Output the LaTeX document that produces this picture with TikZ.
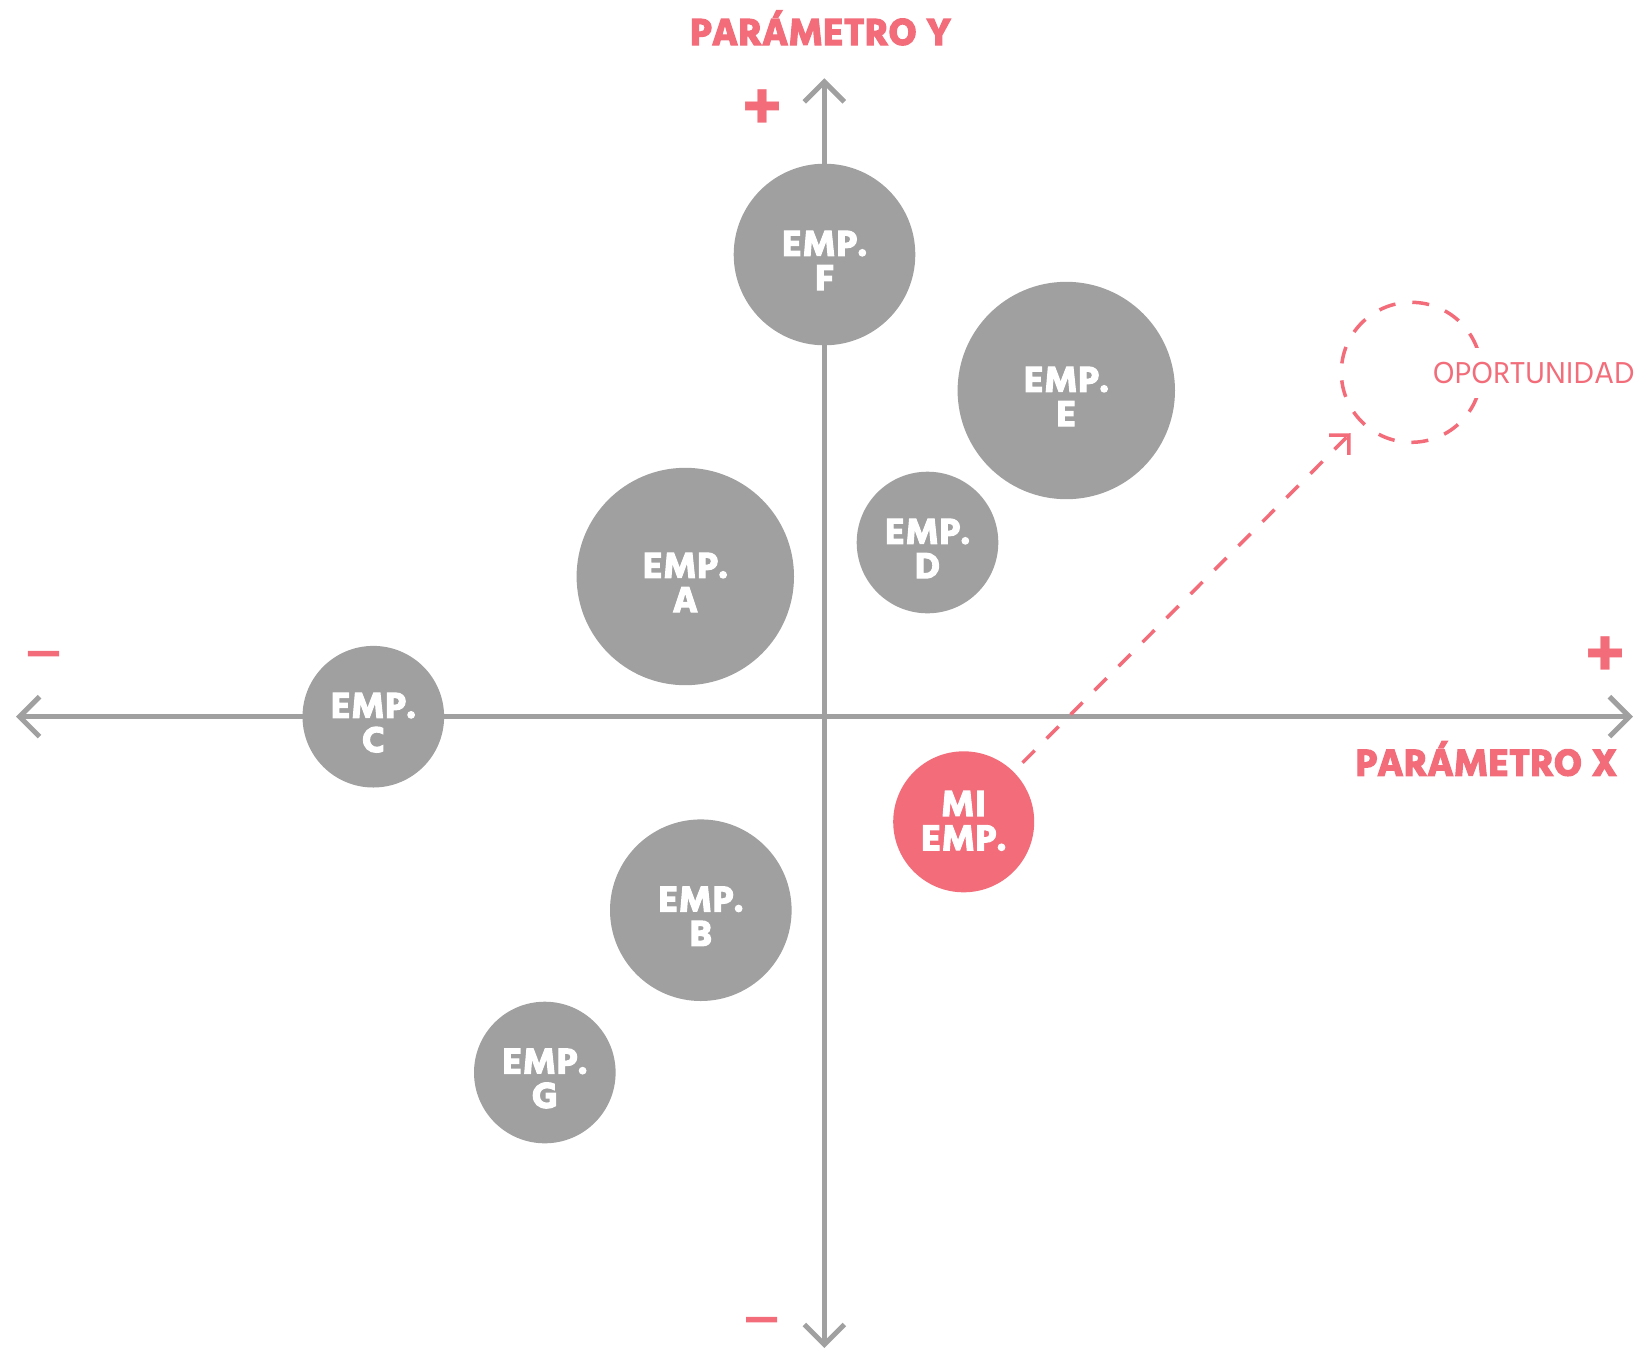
\documentclass[tikz,border=0pt]{standalone}
\usepackage{fontspec}
\newfontfamily\hindfont{Hind Siliguri}
\newfontfamily\hindbold{Hind Siliguri}[UprightFont=* Bold]
\newfontfamily\hindheavy{Hind Siliguri}[UprightFont=* Bold, FakeBold=3]
\newfontfamily\hindwide{Hind Siliguri}[UprightFont=* Bold, FakeBold=3, LetterSpace=1.5]
\usetikzlibrary{arrows.meta}
\definecolor{axisgray}{HTML}{A0A0A0}
\definecolor{rosa}{HTML}{F26C79}
\begin{document}
\begin{tikzpicture}[x=1pt,y=-1pt,
  axisline/.style={draw=axisgray, line width=5pt,
    {Straight Barb[length=20pt,width=40pt]}-{Straight Barb[length=20pt,width=40pt]}},
  firm/.style={circle, fill=axisgray, inner sep=0pt, outer sep=0pt, minimum size=#1},
  mine/.style={circle, fill=rosa, inner sep=0pt, outer sep=0pt, minimum size=#1},
  firmtext/.style={text=white, inner sep=0pt, align=center,
    font=\hindwide\fontsize{37}{34.3}\selectfont},
  axistitle/.style={text=rosa, inner sep=0pt, anchor=base,
    font=\hindheavy\fontsize{38.5}{38.5}\selectfont},
  signmark/.style={text=rosa, inner sep=0pt,
    font=\hindbold\fontsize{68}{68}\selectfont},
  minusmark/.style={text=rosa, inner sep=0pt,
    font=\hindheavy\fontsize{40}{40}\selectfont},
  target/.style={circle, draw=rosa, line width=3.5pt, dash pattern=on 17pt off 17pt,
    dash phase=10pt, inner sep=0pt, outer sep=0pt, minimum size=140pt},
  targettext/.style={text=rosa, fill=white, inner xsep=4pt, inner ysep=14pt, anchor=base,
    font=\hindfont\fontsize{31}{31}\selectfont},
  move/.style={draw=rosa, line width=3.5pt, dash pattern=on 17pt off 17pt,
    -{Straight Barb[length=14pt,width=28pt]}}
]
\useasboundingbox (0,0) rectangle (1636,1350);

% axes
\coordinate (xl) at (16,716.7);
\coordinate (xr) at (1633,716.7);
\coordinate (yt) at (824.3,78.3);
\coordinate (yb) at (824.3,1348);
\draw[axisline] (xl) -- (xr);
\draw[axisline] (yb) -- (yt);

% axis titles and signs
\node[axistitle] (ytitle) at (820.6,45) {PARÁMETRO Y};
\node[axistitle] (xtitle) at (1486.3,775.7) {PARÁMETRO X};
\node[signmark] (yplus) at (762.5,109.7) {+};
\node[minusmark] (yminus) at (761.7,1324) {—};
\node[signmark] (xplus) at (1605.7,657) {+};
\node[minusmark] (xminus) at (43.5,658) {—};

% competitors
\node[firm=181.6pt] (f) at (824.5,254.5) {};
\node[firm=217.4pt] (e) at (1066.3,390.5) {};
\node[firm=141.6pt] (d) at (927.5,542.5) {};
\node[firm=217.4pt] (a) at (685.3,576.5) {};
\node[firm=141.6pt] (c) at (373.3,716.7) {};
\node[firm=181.6pt] (b) at (700.8,910.2) {};
\node[firm=141.6pt] (g) at (544.8,1072.5) {};
\node[mine=141pt] (mi) at (963.7,821.8) {};

\node[firmtext] (f-t) at (824.5,260.5) {EMP.\\F};
\node[firmtext] (e-t) at (1066.3,396.5) {EMP.\\E};
\node[firmtext] (d-t) at (927.5,548.5) {EMP.\\D};
\node[firmtext] (a-t) at (685.3,582.5) {EMP.\\A};
\node[firmtext] (c-t) at (373.3,722.7) {EMP.\\C};
\node[firmtext] (b-t) at (700.8,916.2) {EMP.\\B};
\node[firmtext] (g-t) at (544.8,1078.5) {EMP.\\G};
\node[firmtext] (mi-t) at (963.7,820.8) {MI\\EMP.};

% opportunity
\node[target] (opp) at (1411.3,372.3) {};
\node[targettext] (opp-t) at (1533.7,383.3) {OPORTUNIDAD};
\draw[move, shorten <=13pt, shorten >=16pt] (mi) -- (opp);
\end{tikzpicture}
\end{document}
